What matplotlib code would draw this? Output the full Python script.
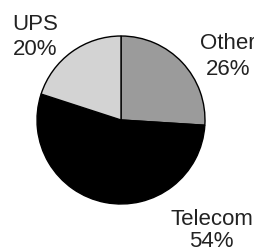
import matplotlib
matplotlib.use("Agg")
import matplotlib.pyplot as plt

# data
labels = ["Other", "Telecom", "UPS"]
shares = [26, 54, 20]
colors = ["#9b9b9b", "#000000", "#d3d3d3"]

# label placement (data coords, pie radius = 1): x centre, baseline of name, baseline of percent
label_x = [1.274, 1.077, -1.024]
name_y = [0.857, -1.238, 1.083]
pct_y = [0.548, -1.50, 0.786]

plt.rcParams['font.family'] = ['Liberation Sans', 'DejaVu Sans']

fig = plt.figure(figsize=(2.54, 2.51), dpi=100)
ax = fig.add_axes([37 / 254, 46 / 251, 168 / 254, 168 / 251])
ax.pie(shares, colors=colors, startangle=90, counterclock=False,
       wedgeprops=dict(edgecolor="black", linewidth=1.0))
ax.set_xlim(-1.0, 1.0)
ax.set_ylim(-1.0, 1.0)
ax.set_aspect("auto")
ax.axis("off")

for name, val, x, y1, y2 in zip(labels, shares, label_x, name_y, pct_y):
    ax.text(x, y1, name, ha="center", va="baseline", fontsize=16,
            color="#222222", clip_on=False)
    ax.text(x, y2, f"{val}%", ha="center", va="baseline", fontsize=16,
            color="#222222", clip_on=False)

fig.savefig("out.png", dpi=100)
